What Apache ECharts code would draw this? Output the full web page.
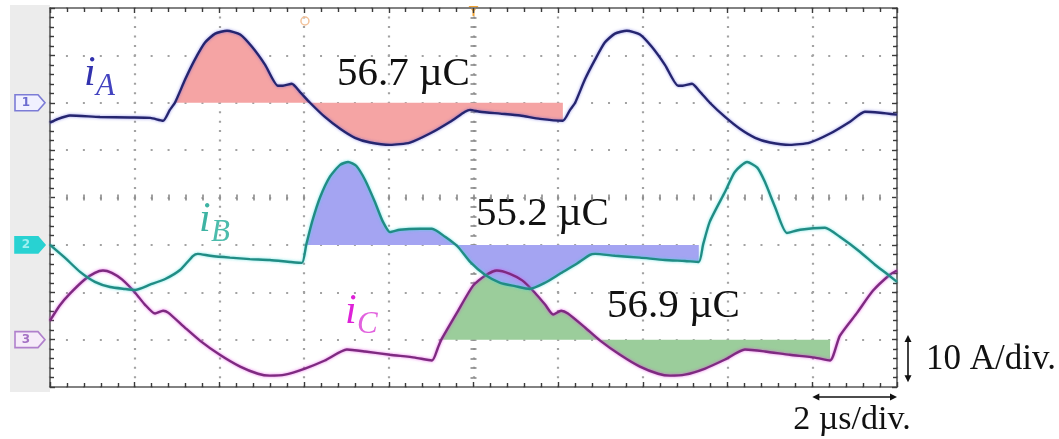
<!DOCTYPE html>
<html>
<head>
<meta charset="utf-8">
<script src="https://cdn.jsdelivr.net/npm/echarts@6/dist/echarts.min.js"></script>
<style>
  html, body { margin: 0; padding: 0; background: #ffffff; }
  #chart { width: 1059px; height: 439px; }
</style>
</head>
<body>
<div id="chart"></div>
<script>
// Three phase currents on a 10 A/div, 2 µs/div screen.
// Time in µs relative to the trigger, current in A.
const tA = [-10.0, -9.86, -9.53, -8.82, -8.11, -7.63, -7.33, -7.17, -7.05, -6.81, -6.58, -6.34, -6.10, -5.82, -5.51, -5.23, -4.92, -4.62, -4.50, -4.29, -4.10, -3.86, -3.51, -3.15, -2.80, -2.44, -1.97, -1.50, -1.03, -0.55, -0.20, -0.08, 0.15, 0.63, 1.10, 1.57, 2.11, 2.28, 2.40, 2.63, 2.87, 3.10, 3.34, 3.62, 3.93, 4.21, 4.52, 4.83, 4.94, 5.16, 5.35, 5.58, 5.94, 6.29, 6.65, 7.00, 7.47, 7.94, 8.42, 8.89, 9.24, 9.60, 10.0];
const iA = [-4.2, -3.6, -2.7, -3.0, -3.1, -3.2, -3.8, -1.5, 0, 4.9, 9.1, 12.7, 14.6, 15.2, 14.4, 11.8, 8.0, 3.6, 3.6, 4.0, 2.3, 0, -3.0, -5.5, -7.4, -8.4, -8.9, -8.4, -6.5, -4.0, -1.9, -1.5, -1.9, -2.3, -2.7, -3.4, -3.8, -1.5, 0, 4.9, 9.1, 12.7, 14.6, 15.2, 14.4, 11.8, 8.0, 3.6, 3.6, 4.0, 2.3, 0, -3.0, -5.5, -7.4, -8.4, -8.9, -8.4, -6.5, -4.0, -1.9, -2.1, -2.5];

const tB = [-10.0, -9.65, -9.29, -8.94, -8.58, -8.23, -7.99, -7.64, -7.28, -6.93, -6.62, -6.51, -6.22, -5.75, -5.28, -4.81, -4.33, -4.05, -3.95, -3.81, -3.62, -3.39, -3.15, -2.96, -2.77, -2.56, -2.33, -2.14, -1.97, -1.74, -1.26, -0.98, -0.67, -0.37, -0.08, 0.27, 0.63, 0.98, 1.33, 1.69, 2.04, 2.40, 2.75, 2.87, 3.34, 3.93, 4.52, 4.99, 5.32, 5.42, 5.58, 5.94, 6.17, 6.46, 6.70, 6.88, 7.12, 7.40, 7.71, 8.30, 8.65, 9.13, 9.48, 9.76, 10.0];
const iB = [0, -2.7, -5.7, -7.8, -8.9, -9.3, -9.5, -8.4, -7.2, -5.3, -2.3, -1.9, -2.3, -2.7, -3.0, -3.2, -3.6, -3.8, 0, 4.9, 10.1, 14.4, 16.9, 17.5, 16.7, 13.7, 9.1, 4.9, 2.7, 3.2, 3.4, 3.4, 1.7, -0.4, -3.6, -6.3, -8.0, -8.7, -9.3, -8.0, -6.1, -4.2, -2.1, -1.9, -2.3, -2.7, -3.2, -3.4, -3.6, 0, 4.9, 11.2, 15.4, 17.5, 16.3, 13.3, 8.0, 2.5, 3.2, 3.6, 1.7, -1.5, -4.2, -6.1, -7.8];

const tC = [-10.0, -9.77, -9.53, -9.18, -8.94, -8.75, -8.54, -8.30, -7.99, -7.76, -7.52, -7.33, -7.21, -6.81, -6.46, -5.99, -5.51, -5.09, -4.81, -4.45, -3.98, -3.51, -2.99, -2.56, -1.97, -1.38, -0.98, -0.84, -0.76, -0.39, -0.01, 0.27, 0.55, 0.86, 1.15, 1.45, 1.69, 1.88, 2.07, 2.23, 2.64, 2.99, 3.46, 3.93, 4.36, 4.64, 4.99, 5.47, 5.94, 6.41, 6.88, 7.47, 8.06, 8.42, 8.65, 9.06, 9.43, 9.83, 10.0];
const iC = [4.0, 7.2, 9.7, 12.7, 14.1, 14.6, 14.1, 12.7, 9.9, 7.4, 5.5, 6.1, 5.7, 2.5, -0.2, -3.2, -5.7, -7.2, -7.6, -7.4, -6.1, -4.4, -2.1, -2.5, -3.2, -3.8, -4.4, -1.7, 0, 5.7, 11.4, 13.5, 14.6, 13.9, 12.5, 9.9, 7.4, 5.3, 6.1, 5.5, 2.5, -0.2, -3.2, -5.7, -7.2, -7.6, -7.4, -6.1, -4.2, -2.1, -2.5, -3.2, -3.8, -4.4, 0.8, 5.7, 10.3, 13.7, 14.6];

// Integration windows (µs) of the shaded charge areas and their results
const chargeWindowA = [-7.05, 2.11];
const chargeWindowB = [-3.95, 5.32];
const chargeWindowC = [-0.76, 8.42];
const chargeLabels = ['56.7 µC', '55.2 µC', '56.9 µC'];

// Screen zero of each channel, in screen amperes (1 div = 10 A)
const zeroA = 20, zeroB = -10, zeroC = -30;

const SERIF = '"Liberation Serif", "Times New Roman", "DejaVu Serif", serif';

function trace(t, v, zero) {
  return t.map((x, k) => [x, v[k] + zero]);
}
function windowed(t, v, zero, w) {
  return trace(t, v, zero).filter(p => p[0] >= w[0] - 1e-9 && p[0] <= w[1] + 1e-9);
}

const chart = echarts.init(document.getElementById('chart'), null, { renderer: 'canvas' });

const tickColor = '#3a3a3a';
function borderX(pos, grid) {
  return {
    type: 'value', min: -10, max: 10, interval: 2, position: pos,
    axisLine: { show: true, onZero: false, lineStyle: { color: '#5a5a5a', width: 1.6 } },
    axisTick: { show: true, inside: true, length: 5, lineStyle: { color: tickColor, width: 1.4 } },
    minorTick: { show: true, splitNumber: 5, length: 4, lineStyle: { color: tickColor, width: 1.4 } },
    axisLabel: { show: false },
    splitLine: grid ? { show: true, lineStyle: { color: '#a2a2a2', width: 2.2, type: [2, 7.47], dashOffset: 1 } } : { show: false }
  };
}
function centerX(inside) {
  return {
    type: 'value', min: -10, max: 10, interval: 2, position: 'bottom',
    axisLine: { show: true, onZero: true, onZeroAxisIndex: 0, lineStyle: { color: 'rgba(0,0,0,0)' } },
    axisTick: { show: true, inside: inside, length: 3, lineStyle: { color: '#8a8a8a', width: 1.6 } },
    minorTick: { show: true, splitNumber: 5, length: 3, lineStyle: { color: '#8a8a8a', width: 1.6 } },
    axisLabel: { show: false }, splitLine: { show: false }
  };
}
function borderY(pos, grid) {
  return {
    type: 'value', min: -40, max: 40, interval: 10, position: pos,
    axisLine: { show: true, onZero: false, lineStyle: { color: '#5a5a5a', width: 1.6 } },
    axisTick: { show: true, inside: true, length: 5, lineStyle: { color: tickColor, width: 1.4 } },
    minorTick: { show: true, splitNumber: 5, length: 4, lineStyle: { color: tickColor, width: 1.4 } },
    axisLabel: { show: false },
    splitLine: grid ? { show: true, lineStyle: { color: '#a2a2a2', width: 2.2, type: [2, 14.94], dashOffset: 1 } } : { show: false }
  };
}
function centerY(inside) {
  return {
    type: 'value', min: -40, max: 40, interval: 10, position: 'left',
    axisLine: { show: true, onZero: true, onZeroAxisIndex: 0, lineStyle: { color: 'rgba(0,0,0,0)' } },
    axisTick: { show: true, inside: inside, length: 3, lineStyle: { color: '#8a8a8a', width: 1.6 } },
    minorTick: { show: true, splitNumber: 5, length: 3, lineStyle: { color: '#8a8a8a', width: 1.6 } },
    axisLabel: { show: false }, splitLine: { show: false }
  };
}

function fillSeries(data, zero, color) {
  return {
    type: 'line', data: data, xAxisIndex: 0, yAxisIndex: 0,
    symbol: 'none', smooth: 0.2, silent: true,
    lineStyle: { width: 0, opacity: 0 },
    areaStyle: { color: color, opacity: 1, origin: zero }
  };
}
function traceSeries(data, color, glow) {
  return {
    type: 'line', data: data, xAxisIndex: 0, yAxisIndex: 0,
    symbol: 'none', smooth: 0.2, silent: true,
    lineStyle: { color: color, width: 2.4, shadowColor: glow, shadowBlur: 3 }
  };
}

chart.setOption({
  animation: false,
  backgroundColor: '#ffffff',
  grid: { left: 50, right: 162, top: 8, bottom: 52, show: false, outerBoundsMode: 'none' },
  xAxis: [borderX('bottom', true), borderX('top', false), centerX(true), centerX(false)],
  yAxis: [borderY('left', true), borderY('right', false), centerY(true), centerY(false)],
  series: [
    fillSeries(windowed(tA, iA, zeroA, chargeWindowA), zeroA, '#f5a4a4'),
    fillSeries(windowed(tC, iC, zeroC, chargeWindowC), zeroC, '#9bcd9b'),
    fillSeries(windowed(tB, iB, zeroB, chargeWindowB), zeroB, '#a4a4f2'),
    traceSeries(trace(tC, iC, zeroC), '#7e2a80', 'rgba(230,60,230,0.7)'),
    traceSeries(trace(tB, iB, zeroB), '#218c84', 'rgba(60,220,220,0.7)'),
    traceSeries(trace(tA, iA, zeroA), '#25256f', 'rgba(80,80,220,0.6)')
  ]
});

// Screen furniture: channel markers, cursor marks, labels and scale arrows
const yPix = v => chart.convertToPixel({ yAxisIndex: 0 }, v);
const xPix = v => chart.convertToPixel({ xAxisIndex: 0 }, v);

function channelMarker(y, label, stroke, fill, textColor) {
  return {
    type: 'group', children: [
      { type: 'polygon', shape: { points: [[15, y - 8], [38, y - 8], [45, y], [38, y + 8], [15, y + 8]] },
        style: { fill: fill, stroke: stroke, lineWidth: 1.6 } },
      { type: 'text', x: 26, y: y, style: { text: label, fill: textColor, font: 'bold 12px "DejaVu Sans", sans-serif', align: 'center', verticalAlign: 'middle' } }
    ]
  };
}
function subLabel(x, yMid, main, sub, mainColor, subColor) {
  return {
    type: 'group', children: [
      { type: 'text', x: x, y: yMid, style: { text: main, fill: mainColor, font: 'italic 42px ' + SERIF, verticalAlign: 'middle' } },
      { type: 'text', x: x + 12, y: yMid + 13, style: { text: sub, fill: subColor, font: 'italic 31px ' + SERIF, verticalAlign: 'middle' } }
    ]
  };
}
function chargeText(x, yMid, text) {
  return { type: 'text', x: x, y: yMid, style: { text: text, fill: '#111111', font: '41px ' + SERIF, verticalAlign: 'middle' } };
}
function arrowHead(tip, dir) {
  const [x, y] = tip, s = 7, w = 3.5;
  const pts = dir === 'up' ? [[x, y], [x - w, y + s], [x + w, y + s]]
    : dir === 'down' ? [[x, y], [x - w, y - s], [x + w, y - s]]
    : dir === 'left' ? [[x, y], [x + s, y - w], [x + s, y + w]]
    : [[x, y], [x - s, y - w], [x - s, y + w]];
  return { type: 'polygon', shape: { points: pts }, style: { fill: '#111111' } };
}

const gTop = 8, gBottom = 387;
const trigX = xPix(0);
const cursorX = xPix(-3.98);
const xTwoUs = xPix(8), xRight = xPix(10);
const yUpper = yPix(-29), yLower = yPix(-39);

chart.setOption({
  graphic: [
    { type: 'rect', z: -10, shape: { x: 10, y: 5, width: 40, height: 387 }, style: { fill: '#ececec' } },
    channelMarker(yPix(zeroA), '1', '#7c7cd6', '#f1f1ff', '#6c6cd0'),
    channelMarker(yPix(zeroB), '2', '#28d2d2', '#28d2d2', '#9ff0f0'),
    channelMarker(yPix(zeroC), '3', '#b080cc', '#f6ecf9', '#a472c4'),
    { type: 'circle', shape: { cx: cursorX, cy: 21, r: 4 }, style: { fill: 'none', stroke: '#f3c29a', lineWidth: 1.5 } },
    { type: 'polygon', shape: { points: [[trigX - 5, 6], [trigX + 5, 6], [trigX, 12]] }, style: { fill: '#f0a232' } },
    { type: 'line', shape: { x1: trigX, y1: 10, x2: trigX, y2: 16 }, style: { stroke: '#f0a232', lineWidth: 2 } },
    subLabel(84, 74, 'i', 'A', '#3232ae', '#4343c0'),
    subLabel(199, 220, 'i', 'B', '#3fb3a3', '#4cbcac'),
    subLabel(345, 312, 'i', 'C', '#de22d8', '#e262de'),
    chargeText(337, 74, chargeLabels[0]),
    chargeText(476, 214, chargeLabels[1]),
    chargeText(607, 306, chargeLabels[2]),
    { type: 'line', shape: { x1: 908, y1: yUpper + 3, x2: 908, y2: yLower - 3 }, style: { stroke: '#111', lineWidth: 1.6 } },
    arrowHead([908, yUpper], 'up'), arrowHead([908, yLower], 'down'),
    { type: 'text', x: 926, y: 360, style: { text: '10 A/div.', fill: '#111111', font: '35px ' + SERIF, verticalAlign: 'middle' } },
    { type: 'line', shape: { x1: xTwoUs + 3, y1: 397, x2: xRight - 3, y2: 397 }, style: { stroke: '#111', lineWidth: 1.6 } },
    arrowHead([xTwoUs, 397], 'left'), arrowHead([xRight, 397], 'right'),
    { type: 'text', x: 852, y: 420, style: { text: '2 µs/div.', fill: '#111111', font: '34px ' + SERIF, align: 'center', verticalAlign: 'middle' } }
  ]
});
</script>
</body>
</html>
